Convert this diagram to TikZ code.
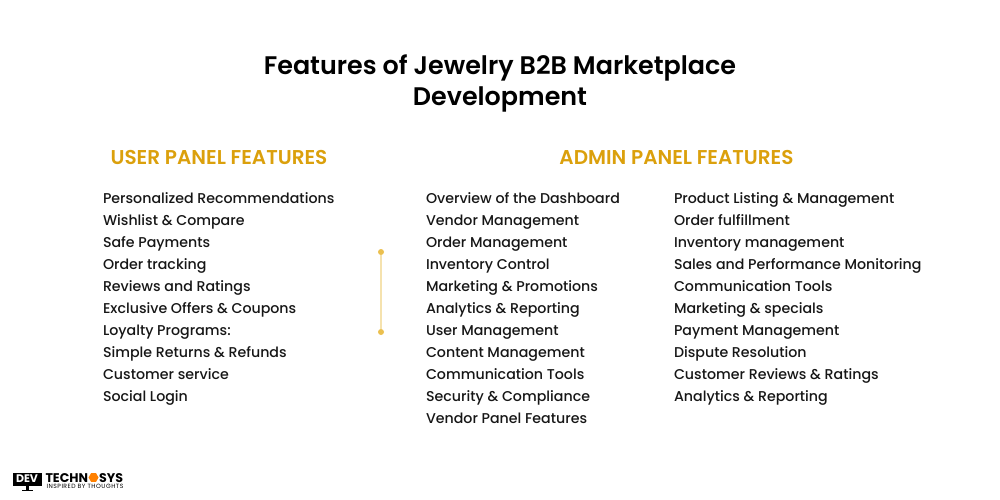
\documentclass[tikz,border=0pt]{standalone}
\usepackage{fontspec}
\setmainfont{Poppins}
\newfontfamily\itemfont{Poppins Medium}
\newfontfamily\headfont{Poppins SemiBold}
\newfontfamily\tagfont[LetterSpace=8]{Poppins}
\usetikzlibrary{positioning}
\usetikzlibrary{shapes.geometric}
\definecolor{gold}{HTML}{DBA00C}
\definecolor{linegold}{HTML}{F5E2AE}
\definecolor{dotgold}{HTML}{EBC04F}
\definecolor{ink}{HTML}{161616}
\tikzset{
	item/.style={inner sep=0pt,outer sep=0pt,minimum height=22pt,anchor=north west,text=ink,font=\fontsize{14.2pt}{16pt}\itemfont,text height=11pt,text depth=3pt},
	head/.style={inner sep=0pt,text=gold,font=\fontsize{20pt}{22pt}\headfont},
	logo/.style={inner sep=0pt,outer sep=0pt,text=black,font=\fontsize{12.6pt}{12pt}\selectfont\bfseries},
	dot/.style={circle,fill=dotgold,inner sep=0pt,minimum size=6pt},
}
\begin{document}
\begin{tikzpicture}[x=1pt,y=-1pt]
	\useasboundingbox (0,0) rectangle (1000,500);
	
	%Title
	\node [align=center,inner sep=0pt,text=black,font=\fontsize{25.4pt}{31pt}\headfont] (title) at (500,83) {Features of Jewelry B2B Marketplace\\Development};
	
	%Headings
	\node [head] (user) at (219,157) {USER PANEL FEATURES};
	\node [head] (admin) at (676.5,157) {ADMIN PANEL FEATURES};
	
	%Lists
	\coordinate (ua) at (103,188);
	\coordinate (aa) at (426,188);
	\coordinate (ba) at (674,188);
	\node [item,below right=0pt and 0pt of ua] (u1) {Personalized Recommendations};
	\node [item,below=0pt of u1.south west,anchor=north west] (u2) {Wishlist \& Compare};
	\node [item,below=0pt of u2.south west,anchor=north west] (u3) {Safe Payments};
	\node [item,below=0pt of u3.south west,anchor=north west] (u4) {Order tracking};
	\node [item,below=0pt of u4.south west,anchor=north west] (u5) {Reviews and Ratings};
	\node [item,below=0pt of u5.south west,anchor=north west] (u6) {Exclusive Offers \& Coupons};
	\node [item,below=0pt of u6.south west,anchor=north west] (u7) {Loyalty Programs:};
	\node [item,below=0pt of u7.south west,anchor=north west] (u8) {Simple Returns \& Refunds};
	\node [item,below=0pt of u8.south west,anchor=north west] (u9) {Customer service};
	\node [item,below=0pt of u9.south west,anchor=north west] (u10) {Social Login};
	
	\node [item,below right=0pt and 0pt of aa] (a1) {Overview of the Dashboard};
	\node [item,below=0pt of a1.south west,anchor=north west] (a2) {Vendor Management};
	\node [item,below=0pt of a2.south west,anchor=north west] (a3) {Order Management};
	\node [item,below=0pt of a3.south west,anchor=north west] (a4) {Inventory Control};
	\node [item,below=0pt of a4.south west,anchor=north west] (a5) {Marketing \& Promotions};
	\node [item,below=0pt of a5.south west,anchor=north west] (a6) {Analytics \& Reporting};
	\node [item,below=0pt of a6.south west,anchor=north west] (a7) {User Management};
	\node [item,below=0pt of a7.south west,anchor=north west] (a8) {Content Management};
	\node [item,below=0pt of a8.south west,anchor=north west] (a9) {Communication Tools};
	\node [item,below=0pt of a9.south west,anchor=north west] (a10) {Security \& Compliance};
	\node [item,below=0pt of a10.south west,anchor=north west] (a11) {Vendor Panel Features};
	
	\node [item,below right=0pt and 0pt of ba] (b1) {Product Listing \& Management};
	\node [item,below=0pt of b1.south west,anchor=north west] (b2) {Order fulfillment};
	\node [item,below=0pt of b2.south west,anchor=north west] (b3) {Inventory management};
	\node [item,below=0pt of b3.south west,anchor=north west] (b4) {Sales and Performance Monitoring};
	\node [item,below=0pt of b4.south west,anchor=north west] (b5) {Communication Tools};
	\node [item,below=0pt of b5.south west,anchor=north west] (b6) {Marketing \& specials};
	\node [item,below=0pt of b6.south west,anchor=north west] (b7) {Payment Management};
	\node [item,below=0pt of b7.south west,anchor=north west] (b8) {Dispute Resolution};
	\node [item,below=0pt of b8.south west,anchor=north west] (b9) {Customer Reviews \& Ratings};
	\node [item,below=0pt of b9.south west,anchor=north west] (b10) {Analytics \& Reporting};
	
	%Divider
	\node [dot] (top) at (381,252) {};
	\node [dot] (bot) at (381,332) {};
	\draw [linegold,line width=2pt] (top) -- (bot);
	
	%Logo
	\node [fill=black,text=white,inner sep=0pt,outer sep=0pt,minimum width=29pt,minimum height=13pt,font=\fontsize{11pt}{11pt}\selectfont\bfseries] (dev) at (27,479) {DEV};
	\node [fill=black,inner sep=0pt,outer sep=0pt,minimum width=3pt,minimum height=4pt,below=0pt of dev] (neck) {};
	\node [fill=black,inner sep=0pt,outer sep=0pt,minimum width=11pt,minimum height=1.5pt,below=0pt of neck] (stand) {};
	\node [logo,right=4pt of dev.north east,anchor=north west,yshift=-0.5pt,text height=9pt,text depth=0pt] (techn) {TECHN};
	\node [regular polygon,regular polygon sides=6,fill=orange,inner sep=0pt,outer sep=0pt,minimum size=10pt,right=0.5pt of techn] (hex) {};
	\node [logo,right=0.5pt of hex,text height=9pt,text depth=0pt] (sys) {SYS};
	\node [inner sep=0pt,text=black,font=\fontsize{6.1pt}{6pt}\tagfont] (tag) at (85,486.5) {INSPIRED BY THOUGHTS};
\end{tikzpicture}
\end{document}
